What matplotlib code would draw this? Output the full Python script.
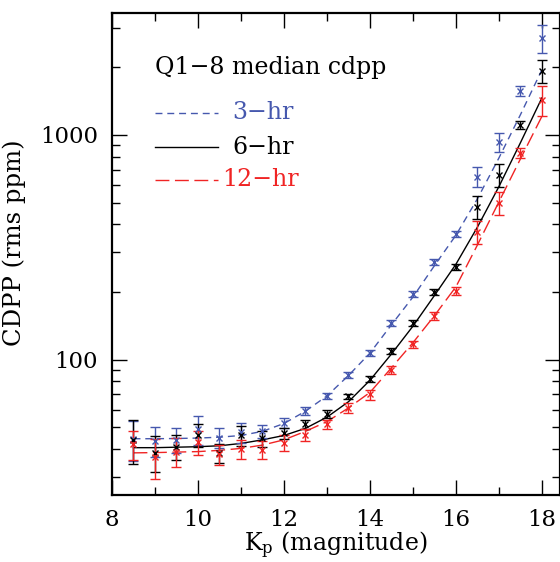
import numpy as np
import matplotlib
matplotlib.use("Agg")
import matplotlib.pyplot as plt
from matplotlib.ticker import LogLocator, FixedLocator, NullFormatter, FixedFormatter

plt.rcParams['font.family'] = ['DejaVu Serif']
plt.rcParams['mathtext.fontset'] = 'dejavuserif'

# ---- data ----
kp = [8.5, 9.0, 9.5, 10.0, 10.5, 11.0, 11.5, 12.0, 12.5, 13.0,
      13.5, 14.0, 14.5, 15.0, 15.5, 16.0, 16.5, 17.0, 17.5, 18.0]

cdpp3 = [44.5, 43.5, 44, 49, 45, 47.5, 48, 52.5, 59.4, 69,
         85.8, 107, 146, 196, 273, 363, 651, 931, 1570, 2698]
err3 = [0.20, 0.15, 0.13, 0.15, 0.10, 0.10, 0.07, 0.05, 0.04, 0.03,
        0.03, 0.03, 0.03, 0.03, 0.03, 0.03, 0.10, 0.10, 0.05, 0.14]

cdpp6 = [44, 38.6, 41, 46.4, 38.5, 46, 44.6, 47, 51.5, 57.5,
         68.6, 82.4, 109.6, 146, 200, 259, 479, 664, 1108, 1924]
err6 = [0.22, 0.18, 0.13, 0.12, 0.10, 0.10, 0.08, 0.06, 0.05, 0.04,
        0.03, 0.03, 0.03, 0.03, 0.03, 0.03, 0.12, 0.12, 0.04, 0.12]

cdpp12 = [42, 37, 39, 43, 37.9, 40, 39.8, 42.7, 46.4, 51.5,
          61, 70, 90, 117, 157, 203, 370, 499, 832, 1431]
err12 = [0.15, 0.20, 0.15, 0.12, 0.10, 0.10, 0.09, 0.08, 0.06, 0.05,
         0.05, 0.05, 0.04, 0.04, 0.04, 0.04, 0.12, 0.12, 0.05, 0.15]

# fitted curves
fit3 = [44.5, 44.5, 44.6, 44.8, 45.2, 46, 48, 52, 59, 69,
        85, 107, 143, 190, 262, 358, 520, 790, 1230, 1950]
fit6 = [40.6, 40.6, 40.8, 41.0, 41.4, 42.4, 44.0, 46.0, 49.5, 55.5,
        65, 81, 106, 141, 193, 266, 389, 589, 923, 1462]
fit12 = [38.5, 38.6, 38.8, 39.0, 39.5, 40.3, 41.7, 44.0, 48.0, 53.0,
         61, 71.5, 92, 119, 157, 211, 324, 504, 782, 1210]

xticks = [8, 10, 12, 14, 16, 18]
yticks = [100, 1000]
ytick_labels = ['100', '1000']

BLUE = '#4658ae'
RED = '#f02424'
BLACK = 'black'

fig = plt.figure(figsize=(5.6, 5.62), dpi=100)
ax = fig.add_axes([0.2, 0.1192, 0.8, 0.8584])

ax.set_yscale('log')

# fits
ax.plot(kp, fit3, color=BLUE, lw=1.0, dashes=(5, 3.5))
ax.plot(kp, fit6, color=BLACK, lw=1.0)
ax.plot(kp, fit12, color=RED, lw=1.0, dashes=(10, 4))

def ebar(y, e, c):
    y = np.asarray(y, float)
    e = np.asarray(e, float) * y
    ax.errorbar(kp, y, yerr=e, fmt='x', color=c, ms=5, mew=1.0,
                elinewidth=1.0, capsize=3.5, capthick=1.0)

ebar(cdpp3, err3, BLUE)
ebar(cdpp6, err6, BLACK)
ebar(cdpp12, err12, RED)

ax.set_xlim(8, 18.42)
ax.set_ylim(25, 3500)

ax.xaxis.set_major_locator(FixedLocator(xticks))
ax.xaxis.set_minor_locator(FixedLocator([9, 11, 13, 15, 17]))
ax.yaxis.set_major_locator(FixedLocator(yticks))
ax.yaxis.set_major_formatter(FixedFormatter(ytick_labels))
ax.yaxis.set_minor_locator(LogLocator(base=10, subs=np.arange(2, 10)))
ax.yaxis.set_minor_formatter(NullFormatter())

ax.tick_params(which='both', direction='in', top=True, right=True, labelsize=16.5, width=1.0)
ax.tick_params(axis='x', which='major', length=11, pad=10)
ax.tick_params(axis='y', which='major', length=11, pad=10)
ax.tick_params(which='minor', length=5.5)
for s in ax.spines.values():
    s.set_linewidth(1.6)

ax.set_xlabel(r'K$_\mathrm{p}$ (magnitude)', fontsize=17)
ax.xaxis.set_label_coords(0.5, -0.072)
ax.set_ylabel('CDPP (rms ppm)', fontsize=17.5)
ax.yaxis.set_label_coords(-0.192, 0.522)

# legend block
T = ax.transAxes
FS = 17
ax.text(0.096, 0.887, 'Q1\u22128 median cdpp', transform=T, fontsize=FS, va='center', ha='left')
ax.plot([0.096, 0.236], [0.792, 0.792], transform=T, color=BLUE, lw=1.0, dashes=(5, 3.5))
ax.text(0.268, 0.792, '3\u2212hr', transform=T, fontsize=FS, va='center', ha='left', color=BLUE)
ax.plot([0.096, 0.236], [0.721, 0.721], transform=T, color=BLACK, lw=1.0)
ax.text(0.268, 0.721, '6\u2212hr', transform=T, fontsize=FS, va='center', ha='left', color=BLACK)
ax.plot([0.096, 0.236], [0.653, 0.653], transform=T, color=RED, lw=1.0, dashes=(10, 4))
ax.text(0.245, 0.653, '12\u2212hr', transform=T, fontsize=FS, va='center', ha='left', color=RED)

fig.savefig('out.png', dpi=100)
